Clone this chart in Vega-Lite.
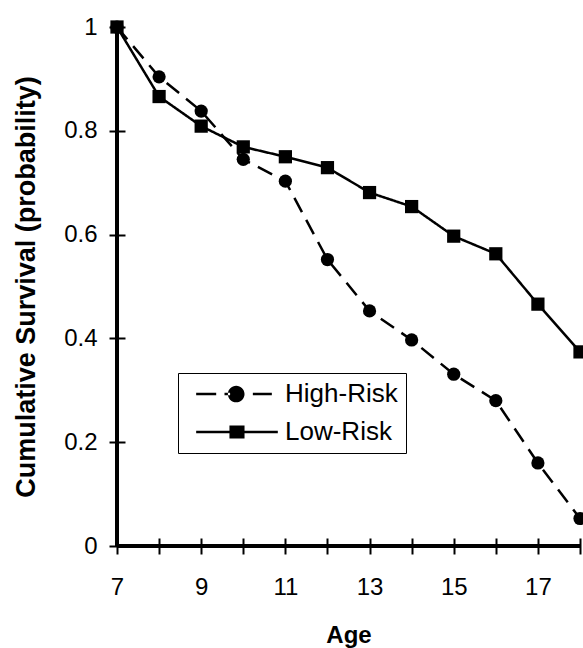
{
  "$schema": "https://vega.github.io/schema/vega-lite/v6.json",
  "width": 463,
  "height": 519,
  "autosize": {"type": "none"},
  "padding": {"left": 117, "top": 27, "right": 3, "bottom": 102},
  "background": "white",
  "config": {"view": {"stroke": null}, "font": "Liberation Sans"},
  "data": {
    "values": [
      {"Age": 7, "Survival": 1.0, "Group": "High-Risk"},
      {"Age": 8, "Survival": 0.904, "Group": "High-Risk"},
      {"Age": 9, "Survival": 0.838, "Group": "High-Risk"},
      {"Age": 10, "Survival": 0.745, "Group": "High-Risk"},
      {"Age": 11, "Survival": 0.703, "Group": "High-Risk"},
      {"Age": 12, "Survival": 0.552, "Group": "High-Risk"},
      {"Age": 13, "Survival": 0.453, "Group": "High-Risk"},
      {"Age": 14, "Survival": 0.397, "Group": "High-Risk"},
      {"Age": 15, "Survival": 0.331, "Group": "High-Risk"},
      {"Age": 16, "Survival": 0.280, "Group": "High-Risk"},
      {"Age": 17, "Survival": 0.160, "Group": "High-Risk"},
      {"Age": 18, "Survival": 0.053, "Group": "High-Risk"},
      {"Age": 7, "Survival": 1.0, "Group": "Low-Risk"},
      {"Age": 8, "Survival": 0.866, "Group": "Low-Risk"},
      {"Age": 9, "Survival": 0.809, "Group": "Low-Risk"},
      {"Age": 10, "Survival": 0.769, "Group": "Low-Risk"},
      {"Age": 11, "Survival": 0.750, "Group": "Low-Risk"},
      {"Age": 12, "Survival": 0.729, "Group": "Low-Risk"},
      {"Age": 13, "Survival": 0.681, "Group": "Low-Risk"},
      {"Age": 14, "Survival": 0.654, "Group": "Low-Risk"},
      {"Age": 15, "Survival": 0.597, "Group": "Low-Risk"},
      {"Age": 16, "Survival": 0.563, "Group": "Low-Risk"},
      {"Age": 17, "Survival": 0.466, "Group": "Low-Risk"},
      {"Age": 18, "Survival": 0.374, "Group": "Low-Risk"}
    ]
  },
  "layer": [
    {
      "mark": {"type": "line", "color": "black", "strokeWidth": 2.5},
      "encoding": {
        "x": {
          "field": "Age", "type": "quantitative",
          "scale": {"domain": [7, 18], "nice": false, "zero": false},
          "axis": {
            "title": "Age",
            "values": [7, 8, 9, 10, 11, 12, 13, 14, 15, 16, 17, 18],
            "labelExpr": "datum.value % 2 == 1 ? datum.label : ''",
            "offset": -8, "tickSize": 16, "tickWidth": 2, "tickColor": "black",
            "domain": false, "grid": false,
            "labelFont": "Liberation Sans", "labelFontSize": 24, "labelColor": "black",
            "labelPadding": 21, "labelFlush": false, "labelOverlap": false,
            "titleFont": "Liberation Sans", "titleFontSize": 24, "titleFontWeight": "bold",
            "titleColor": "black", "titleBaseline": "alphabetic", "titleY": 104
          }
        },
        "y": {
          "field": "Survival", "type": "quantitative",
          "scale": {"domain": [0, 1], "nice": false},
          "axis": {
            "title": "Cumulative Survival (probability)",
            "values": [0, 0.2, 0.4, 0.6, 0.8, 1],
            "format": ".1~f",
            "offset": -8, "tickSize": 16, "tickWidth": 2, "tickColor": "black",
            "domain": false, "grid": false,
            "labelFont": "Liberation Sans", "labelFontSize": 24, "labelColor": "black",
            "labelPadding": 12, "labelFlush": false, "labelOverlap": false,
            "titleFont": "Liberation Sans", "titleFontSize": 27, "titleFontWeight": "bold",
            "titleColor": "black", "titleBaseline": "alphabetic", "titleX": -91
          }
        },
        "strokeDash": {
          "field": "Group", "type": "nominal",
          "scale": {"domain": ["High-Risk", "Low-Risk"], "range": [[16, 9], [1, 0]]},
          "legend": null
        }
      }
    },
    {
      "mark": {"type": "rule", "color": "black", "strokeWidth": 2.5},
      "encoding": {"y": {"datum": 0, "type": "quantitative"}}
    },
    {
      "mark": {"type": "rule", "color": "black", "strokeWidth": 2.5},
      "encoding": {"x": {"datum": 7, "type": "quantitative"}}
    },
    {
      "mark": {"type": "point", "filled": true, "color": "black", "opacity": 1, "size": 175},
      "encoding": {
        "x": {"field": "Age", "type": "quantitative"},
        "y": {"field": "Survival", "type": "quantitative"},
        "shape": {
          "field": "Group", "type": "nominal",
          "scale": {"domain": ["High-Risk", "Low-Risk"], "range": ["circle", "square"]},
          "legend": null
        }
      }
    },
    {
      "mark": {"type": "point", "filled": true, "color": "black", "opacity": 0, "size": 10},
      "encoding": {
        "x": {"field": "Age", "type": "quantitative"},
        "y": {"field": "Survival", "type": "quantitative"},
        "shape": {
          "field": "Group", "type": "nominal",
          "scale": {
            "domain": ["High-Risk", "Low-Risk"],
            "range": [
              "M-2.91,-0.1L-1.37,-0.1L-1.37,0.1L-2.91,0.1Z M1.45,-0.1L2.91,-0.1L2.91,0.1L1.45,0.1Z M-0.73,-0.1L-0.3,-0.1L-0.3,0.1L-0.73,0.1Z M-0.47,0A0.64,0.64,0,1,0,0.81,0A0.64,0.64,0,1,0,-0.47,0Z",
              "M-2.91,-0.1L3.37,-0.1L3.37,0.1L-2.91,0.1Z M-0.35,-0.5L0.81,-0.5L0.81,0.5L-0.35,0.5Z"
            ]
          },
          "legend": {
            "title": null,
            "orient": "none", "legendX": 61, "legendY": 346,
            "symbolSize": 676, "symbolStrokeWidth": 0,
            "symbolFillColor": "black", "symbolStrokeColor": "black", "symbolOpacity": 1,
            "labelFont": "Liberation Sans", "labelFontSize": 26, "labelColor": "black",
            "labelOffset": 38, "symbolOffset": 35, "padding": 8, "rowPadding": 12,
            "strokeColor": "black", "fillColor": "white"
          }
        }
      }
    }
  ],
  "resolve": {"scale": {"shape": "independent"}, "legend": {"shape": "independent"}}
}
